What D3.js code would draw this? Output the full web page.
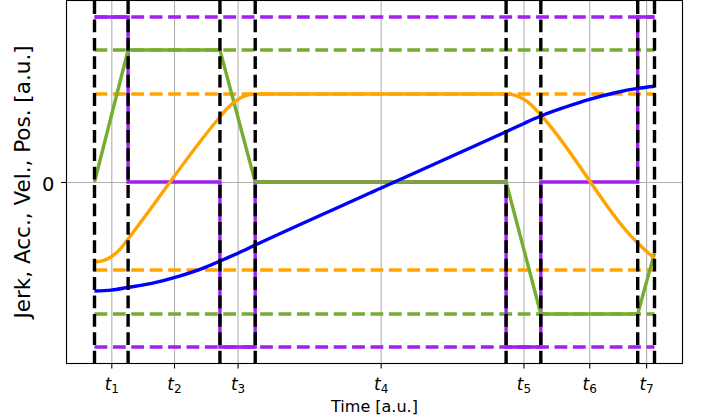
<!DOCTYPE html>
<html>
<head>
<meta charset="utf-8">
<script src="https://cdn.jsdelivr.net/npm/d3@7"></script>
<style>
  body { margin: 0; background: #fff; }
  svg { display: block; font-family: "DejaVu Sans", sans-serif; }
</style>
</head>
<body>
<svg id="chart" width="704" height="420"></svg>
<script>
// switching times of the 7 phases
const phaseTimes = [0, 0.6, 2.24, 2.87, 7.35, 7.97, 9.70, 10.0];
const tickNames = ["1", "2", "3", "4", "5", "6", "7"];

// limits
const jerkMax = 1.0;
const accMax = 0.8;
const velMax = 0.533;

// jerk per phase, acceleration at switching times
const jerkValues = [1, 0, -1, 0, -1, 0, 1];
const accValues = [0, 0.8, 0.8, 0, 0, -0.8, -0.8, -0.43];

// velocity
const velTimes = [0, 0.15, 0.30, 0.45, 0.60, 2.24, 2.40, 2.55, 2.70, 2.87, 7.35, 7.50, 7.65, 7.80, 7.97, 9.70, 9.85, 10.0];
const velValues = [-0.485, -0.477, -0.453, -0.410, -0.345, 0.394, 0.456, 0.498, 0.524, 0.533, 0.533, 0.526, 0.504, 0.467, 0.406, -0.370, -0.418, -0.461];

// position
const posTimes = [0, 0.3, 0.6, 1.0, 1.5, 2.0, 2.24, 2.55, 2.87, 5.11, 7.35, 7.65, 7.97, 8.4, 8.84, 9.3, 9.70, 10.0];
const posValues = [-0.661, -0.655, -0.639, -0.616, -0.572, -0.514, -0.479, -0.433, -0.382, -0.038, 0.305, 0.352, 0.400, 0.453, 0.501, 0.541, 0.567, 0.580];

const colors = { jerk: "#a020f0", acc: "#77ac30", vel: "#ffa500", pos: "#0000ff" };

const margin = { top: 0.5, right: 21.5, bottom: 56.5, left: 66.5 };
const width = 704 - margin.left - margin.right;
const height = 420 - margin.top - margin.bottom;

const svg = d3.select("#chart");
const g = svg.append("g").attr("transform", `translate(${margin.left},${margin.top})`);

const span = phaseTimes[7] - phaseTimes[0];
const x = d3.scaleLinear()
  .domain([phaseTimes[0] - 0.05 * span, phaseTimes[7] + 0.05 * span])
  .range([0, width]);
const y = d3.scaleLinear()
  .domain([-jerkMax * 1.1, jerkMax * 1.1])
  .range([height, 0]);

const tickTimes = d3.pairs(phaseTimes).map(p => (p[0] + p[1]) / 2);

// grid
g.append("g")
  .attr("class", "grid")
  .attr("transform", `translate(0,${height})`)
  .call(d3.axisBottom(x).tickValues(tickTimes).tickSize(-height).tickFormat(""))
  .call(s => s.select(".domain").remove())
  .selectAll("line").attr("stroke", "#b0b0b0").attr("stroke-width", 1.1);
g.append("g")
  .attr("class", "grid")
  .call(d3.axisLeft(y).tickValues([0]).tickSize(-width).tickFormat(""))
  .call(s => s.select(".domain").remove())
  .selectAll("line").attr("stroke", "#b0b0b0").attr("stroke-width", 1.1);

const lw = 3.4;
const dash = "12.8,5.6";

// limit lines
const limitLines = [
  { v: jerkMax, c: colors.jerk }, { v: -jerkMax, c: colors.jerk },
  { v: accMax, c: colors.acc }, { v: -accMax, c: colors.acc },
  { v: velMax, c: colors.vel }, { v: -velMax, c: colors.vel }
];
g.selectAll(".limit")
  .data(limitLines)
  .join("line")
  .attr("class", "limit")
  .attr("x1", x(phaseTimes[0])).attr("x2", x(phaseTimes[7]))
  .attr("y1", d => y(d.v)).attr("y2", d => y(d.v))
  .attr("stroke", d => d.c)
  .attr("stroke-width", lw)
  .attr("stroke-dasharray", dash);

// jerk step
const jerkPts = jerkValues.map((v, i) => [phaseTimes[i], v]);
jerkPts.push([phaseTimes[7], jerkValues[6]]);
g.append("path")
  .datum(jerkPts)
  .attr("fill", "none")
  .attr("stroke", colors.jerk)
  .attr("stroke-width", lw)
  .attr("d", d3.line().x(d => x(d[0])).y(d => y(d[1])).curve(d3.curveStepAfter));

// acceleration
g.append("path")
  .datum(accValues.map((v, i) => [phaseTimes[i], v]))
  .attr("fill", "none")
  .attr("stroke", colors.acc)
  .attr("stroke-width", lw)
  .attr("d", d3.line().x(d => x(d[0])).y(d => y(d[1])));

// velocity
g.append("path")
  .datum(velValues.map((v, i) => [velTimes[i], v]))
  .attr("fill", "none")
  .attr("stroke", colors.vel)
  .attr("stroke-width", lw)
  .attr("d", d3.line().x(d => x(d[0])).y(d => y(d[1])).curve(d3.curveMonotoneX));

// position
g.append("path")
  .datum(posValues.map((v, i) => [posTimes[i], v]))
  .attr("fill", "none")
  .attr("stroke", colors.pos)
  .attr("stroke-width", lw)
  .attr("d", d3.line().x(d => x(d[0])).y(d => y(d[1])).curve(d3.curveMonotoneX));

// switching times
g.selectAll(".switch")
  .data(phaseTimes)
  .join("line")
  .attr("class", "switch")
  .attr("x1", d => x(d)).attr("x2", d => x(d))
  .attr("y1", height).attr("y2", 0)
  .attr("stroke", "#000")
  .attr("stroke-width", lw)
  .attr("stroke-dasharray", dash);

// axes
const xAxis = g.append("g")
  .attr("transform", `translate(0,${height})`)
  .call(d3.axisBottom(x).tickValues(tickTimes).tickSize(5).tickPadding(6).tickFormat(""));
xAxis.select(".domain").remove();
xAxis.selectAll(".tick line").attr("stroke-width", 1.1);
xAxis.selectAll(".tick").each(function (d, i) {
  const t = d3.select(this).append("text")
    .attr("y", 26.5)
    .attr("fill", "#000")
    .attr("text-anchor", "middle")
    .style("font-size", "17px")
    .style("font-family", "'DejaVu Sans', sans-serif");
  t.append("tspan").style("font-style", "italic").text("t");
  t.append("tspan").attr("dy", 3).style("font-size", "12px").text(tickNames[i]);
});

const yAxis = g.append("g")
  .call(d3.axisLeft(y).tickValues([0]).tickSize(5.5).tickFormat(""));
yAxis.select(".domain").remove();
yAxis.selectAll(".tick line").attr("stroke-width", 1.1);
yAxis.selectAll(".tick").append("text")
  .attr("x", -12).attr("y", 8.5)
  .attr("fill", "#000")
  .attr("text-anchor", "end")
  .style("font-size", "19.5px")
  .style("font-family", "'DejaVu Sans', sans-serif")
  .text("0");

// frame
g.append("rect")
  .attr("width", width).attr("height", height)
  .attr("fill", "none")
  .attr("stroke", "#000")
  .attr("stroke-width", 1.1);

// labels
svg.append("text")
  .attr("x", margin.left + width / 2)
  .attr("y", 412)
  .attr("text-anchor", "middle")
  .style("font-size", "16px")
  .text("Time [a.u.]");

svg.append("text")
  .attr("transform", `translate(30,${margin.top + height / 2}) rotate(-90)`)
  .attr("text-anchor", "middle")
  .style("font-size", "21.5px")
  .text("Jerk, Acc., Vel., Pos. [a.u.]");
</script>
</body>
</html>
